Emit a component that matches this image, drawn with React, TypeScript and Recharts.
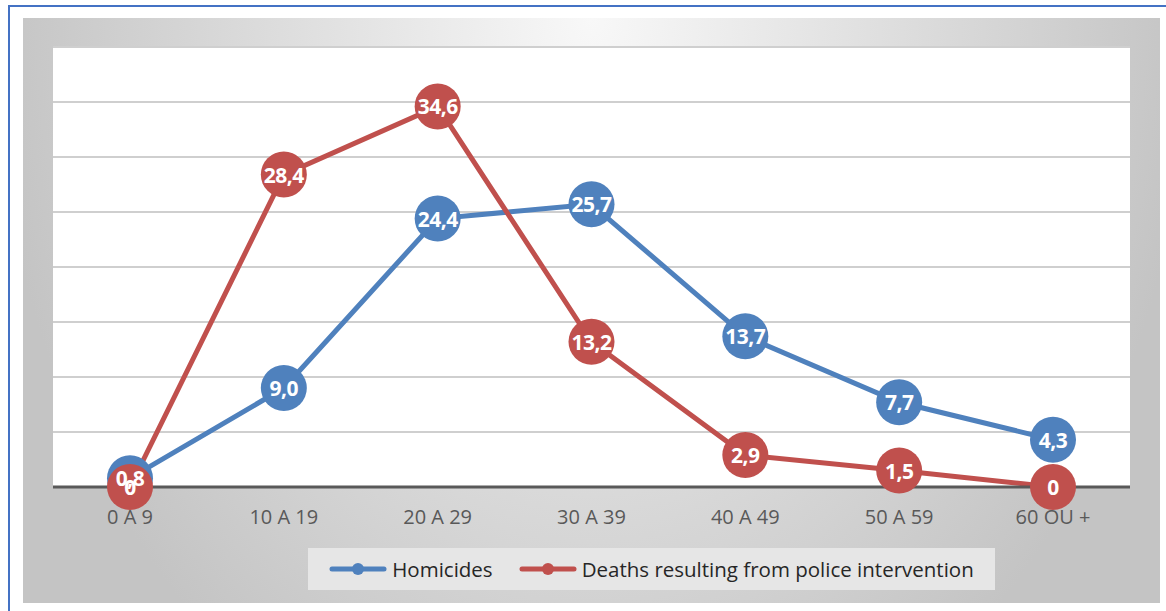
import { LineChart, Line, XAxis, YAxis, CartesianGrid, Legend, LabelList } from "recharts"

const ageGroups = ["0 A 9", "10 A 19", "20 A 29", "30 A 39", "40 A 49", "50 A 59", "60 OU +"]
const homicides = [0.8, 9.0, 24.4, 25.7, 13.7, 7.7, 4.3]
const policeDeaths = [0, 28.4, 34.6, 13.2, 2.9, 1.5, 0]
const yTicks = [0, 5, 10, 15, 20, 25, 30, 35, 40]

const BLUE = "#4f81bd"
const RED = "#c0504d"
const FONT = "'Open Sans', sans-serif"

const data = ageGroups.map((name, i) => ({
  name,
  homicides: homicides[i],
  police: policeDeaths[i],
}))

const fmtBlue = (v: number) => v.toFixed(1).replace(".", ",")
const fmtRed = (v: number) => (v === 0 ? "0" : v.toFixed(1).replace(".", ","))

const bigDot = (color: string) => (props: any) => {
  const { cx, cy, index } = props
  return <circle key={`d-${color}-${index}`} cx={cx} cy={cy} r={23} fill={color} />
}

const labelContent = (fmt: (v: number) => string) => (props: any) => {
  const { x, y, value, index } = props
  return (
    <text
      key={`l-${index}`}
      x={x}
      y={y}
      textAnchor="middle"
      dominantBaseline="central"
      fill="#ffffff"
      fontSize={21}
      fontWeight={700}
      fontFamily={FONT}
      letterSpacing={-0.5}
    >
      {fmt(value)}
    </text>
  )
}

const legendItems = [
  { label: "Homicides", color: BLUE },
  { label: "Deaths resulting from police intervention", color: RED },
]

function ChartLegend() {
  return (
    <div
      style={{
        width: 687,
        height: 42,
        background: "#e6e6e6",
        display: "flex",
        alignItems: "center",
        justifyContent: "center",
        gap: 26,
        fontFamily: FONT,
        fontSize: 20.5,
        color: "#262626",
      }}
    >
      {legendItems.map((it) => (
        <div key={it.label} style={{ display: "flex", alignItems: "center", gap: 5 }}>
          <svg width={58} height={14}>
            <line x1={3} y1={7} x2={55} y2={7} stroke={it.color} strokeWidth={5} strokeLinecap="round" />
            <circle cx={29} cy={7} r={6} fill={it.color} />
          </svg>
          <span>{it.label}</span>
        </div>
      ))}
    </div>
  )
}

export default function App() {
  return (
    <div style={{ position: "absolute", left: 0, top: 0, width: 1166, height: 611, background: "#fff", overflow: "hidden" }}>
      <div
        style={{
          position: "absolute",
          left: 8,
          top: 5,
          width: 1160,
          height: 620,
          borderTop: "2px solid #4472c4",
          borderLeft: "2px solid #4472c4",
        }}
      />
      <div
        style={{
          position: "absolute",
          left: 23,
          top: 18,
          width: 1137,
          height: 585,
          background: "radial-gradient(ellipse 600px 800px at 50% 0%, #f8f8f8 0%, #c4c4c4 100%)",
        }}
      >
        <LineChart width={1137} height={585} data={data} margin={{ top: 29, right: 30, left: 30, bottom: 56 }}>
          <CartesianGrid vertical={false} stroke="#cfcfcf" strokeWidth={2} fill="#ffffff" fillOpacity={1} />
          <YAxis hide domain={[0, 40]} ticks={yTicks} />
          <XAxis
            dataKey="name"
            height={60}
            padding={{ left: 77, right: 77 }}
            tickLine={false}
            axisLine={{ stroke: "#595959", strokeWidth: 3 }}
            tickMargin={17}
            tick={{ fill: "#595959", fontSize: 20, fontFamily: FONT }}
            interval={0}
          />
          <Legend verticalAlign="middle" content={<ChartLegend />} wrapperStyle={{ left: 285, top: 530, width: 687, height: 42 }} />
          <Line
            dataKey="homicides"
            name="Homicides"
            stroke={BLUE}
            strokeWidth={5}
            dot={bigDot(BLUE)}
            activeDot={false}
            isAnimationActive={false}
          />
          <Line
            dataKey="police"
            name="Deaths resulting from police intervention"
            stroke={RED}
            strokeWidth={5}
            dot={bigDot(RED)}
            activeDot={false}
            isAnimationActive={false}
          />
          <Line dataKey="homicides" stroke="none" dot={false} activeDot={false} legendType="none" isAnimationActive={false}>
            <LabelList dataKey="homicides" content={labelContent(fmtBlue)} />
          </Line>
          <Line dataKey="police" stroke="none" dot={false} activeDot={false} legendType="none" isAnimationActive={false}>
            <LabelList dataKey="police" content={labelContent(fmtRed)} />
          </Line>
        </LineChart>
      </div>
    </div>
  )
}
